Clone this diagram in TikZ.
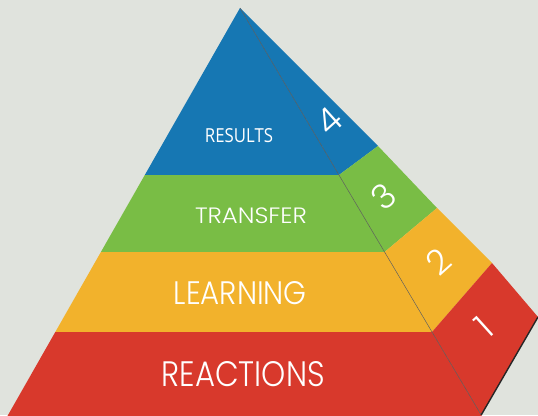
\documentclass[tikz,border=0pt]{standalone}
\usepackage{fontspec}
\usepackage{graphicx}
\setmainfont{Poppins}[UprightFont={* Light}]
\newfontfamily\resfont{Open Sans}
\definecolor{bg}{HTML}{E0E3DD}
\definecolor{pblue}{HTML}{1677B3}
\definecolor{pgreen}{HTML}{79BD45}
\definecolor{pyellow}{HTML}{F2B22C}
\definecolor{pred}{HTML}{D8392C}
\tikzset{
  label/.style={text=white, inner sep=0pt, anchor=center},
  digit/.style={text=white, inner sep=0pt, anchor=center, rotate=42},
}
\newcommand{\fitbox}[3]{\resizebox{#1pt}{#2pt}{#3}}
\begin{document}
\begin{tikzpicture}[x=1pt,y=-1pt]
\useasboundingbox (0,0) rectangle (538,415);
\clip (0,0) rectangle (538,415);
\fill[bg] (0,0) rectangle (538,415);
% key points
\coordinate (A) at (240,8);
\coordinate (L1) at (144.8,175);
\coordinate (R1) at (339,175);
\coordinate (L2) at (100.9,252);
\coordinate (R2) at (384.6,252);
\coordinate (L3) at (55.3,332);
\coordinate (R3) at (432,332);
\coordinate (L4) at (-0.5,430);
\coordinate (R4) at (490.1,430);
\coordinate (RB) at (481.2,415);
\coordinate (S1) at (378,146);
\coordinate (S2) at (437,208);
\coordinate (S3) at (492,263);
\coordinate (S4) at (538,317);
% front face
\fill[pblue] (A) -- (L1) -- (R1) -- cycle;
\fill[pgreen] (L1) -- (R1) -- (R2) -- (L2) -- cycle;
\fill[pyellow] (L2) -- (R2) -- (R3) -- (L3) -- cycle;
\fill[pred] (L3) -- (R3) -- (R4) -- (L4) -- cycle;
% side face
\fill[pblue] (A) -- (S1) -- (R1) -- cycle;
\fill[pgreen] (R1) -- (S1) -- (S2) -- (R2) -- cycle;
\fill[pyellow] (R2) -- (S2) -- (S3) -- (R3) -- cycle;
\fill[pred] (R3) -- (S3) -- (S4) -- (RB) -- cycle;
% edges
\draw[black!65, line width=0.45pt] (A) -- (RB);
\draw[black!85, line width=1.4pt] (S4) -- (RB);
% labels
\node[label] (results) at (239,135.3) {\fitbox{68}{14}{\resfont RESULTS}};
\node[label] (transfer) at (251,215.5) {\fitbox{112}{15.7}{TRANSFER}};
\node[label] (learning) at (240.3,293.3) {\fitbox{133}{23}{LEARNING}};
\node[label] (reactions) at (243.3,374.2) {\fitbox{163}{25}{REACTIONS}};
% digits
\node[digit] (d4) at (329,121) {\resizebox{!}{25pt}{4}};
\node[digit] (d3) at (384,197) {\resizebox{!}{25pt}{3}};
\node[digit] (d2) at (438,262) {\resizebox{!}{25pt}{2}};
\node[digit] (d1) at (484,327) {\resizebox{!}{25pt}{1}};
\end{tikzpicture}
\end{document}
